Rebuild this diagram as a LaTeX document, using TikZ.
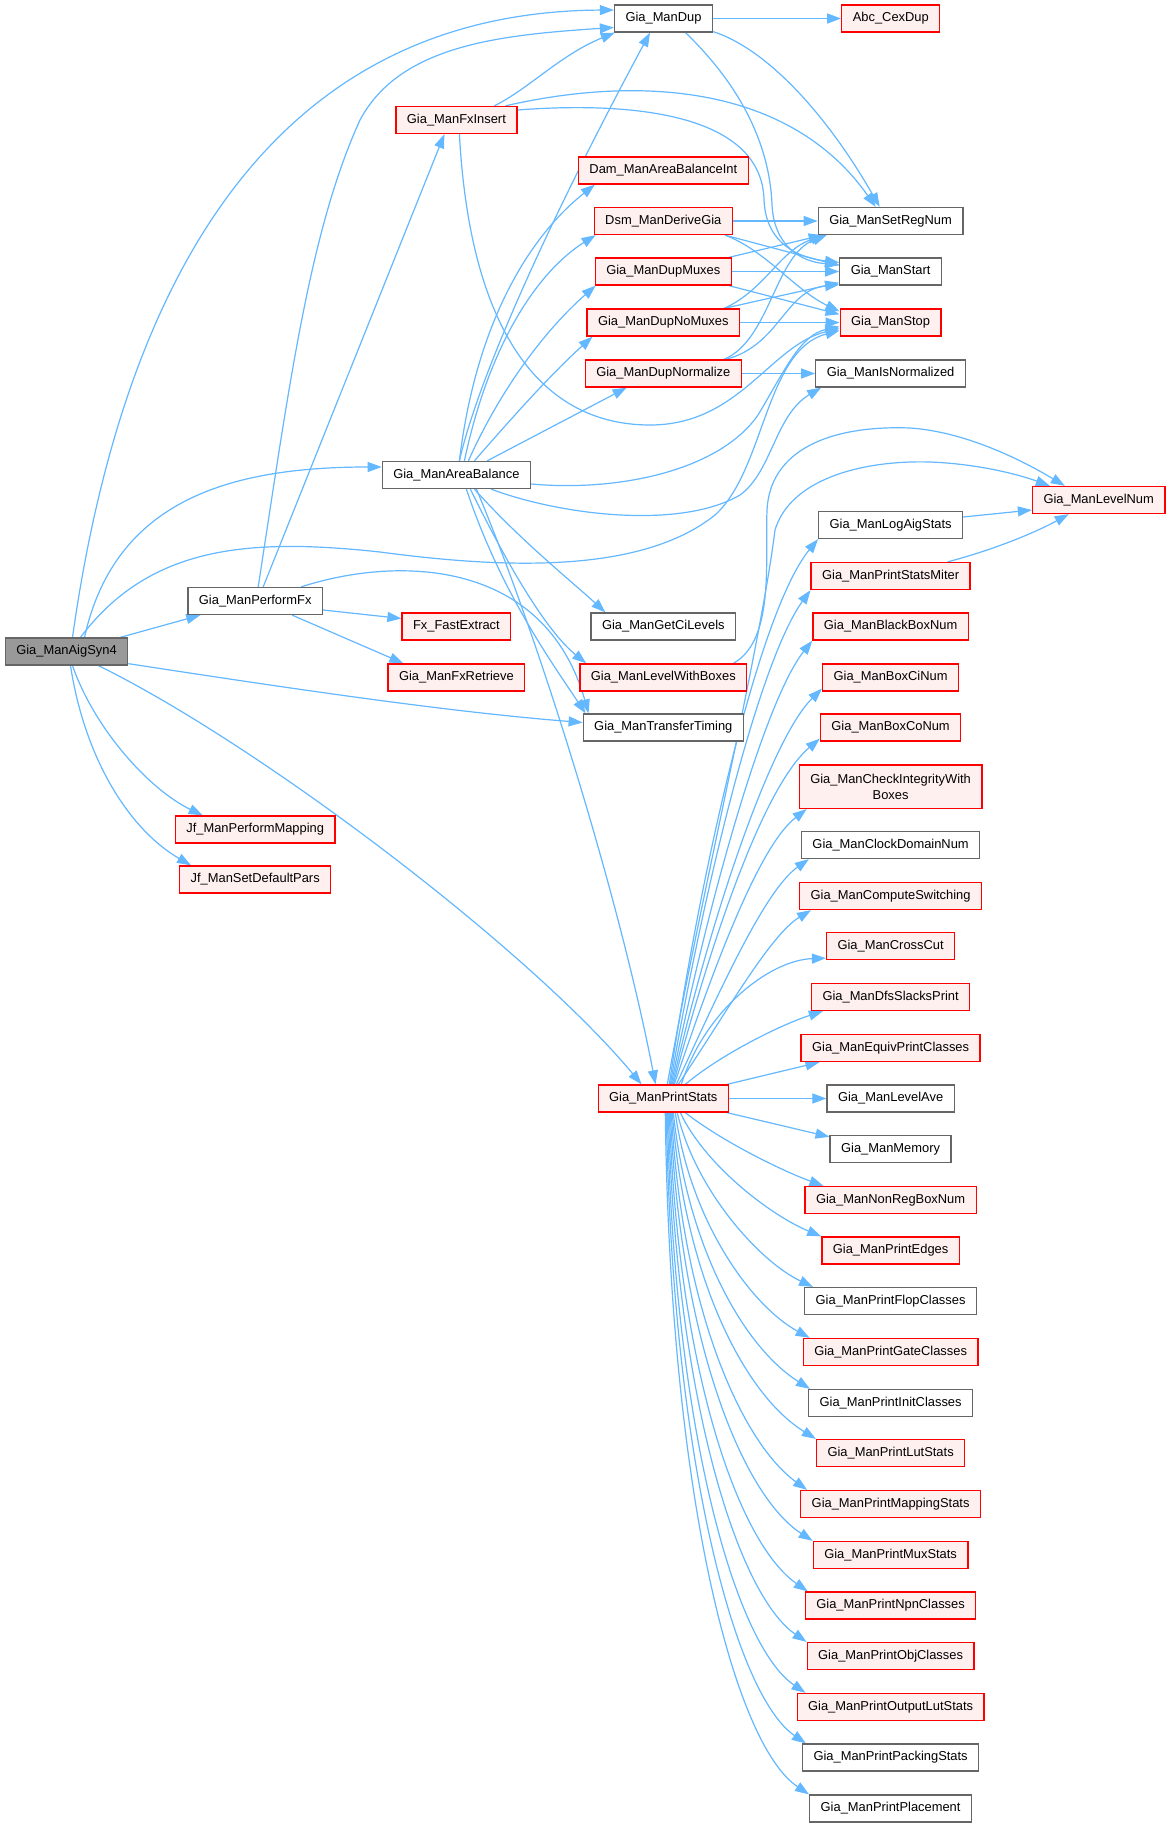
\documentclass[tikz,border=0pt]{standalone}
\usepackage{fontspec}
\setmainfont{Liberation Sans}
\usetikzlibrary{arrows.meta,calc,backgrounds}
\definecolor{edgec}{HTML}{63B8FF}
\definecolor{redb}{HTML}{FF0000}
\definecolor{redf}{HTML}{FFF0F0}
\definecolor{grayb}{HTML}{666666}
\definecolor{rootf}{HTML}{999999}
\begin{document}
\begin{tikzpicture}[x=1pt,y=-1pt,
  basebox/.style={draw, line width=1.3pt, font=\fontsize{12.9pt}{15.5pt}\selectfont, inner xsep=11pt, inner ysep=0pt},
  box/.style={basebox, minimum height=27pt, text height=9.4pt, text depth=2.6pt},
  rbox/.style={box, draw=redb, fill=redf},
  gbox/.style={box, draw=grayb, fill=white},
  rootbox/.style={box, draw=grayb, fill=rootf},
  chkbox/.style={basebox, draw=redb, fill=redf, align=center, minimum height=43.5pt},
  e/.style={draw=edgec, line width=1.2pt, -{Triangle[length=14pt,width=10pt]}}
]
\useasboundingbox (0,0) rectangle (1171,1827);

\node[rootbox] (root) at (66.5,651.5) {Gia\_ManAigSyn4};
\node[gbox] (dup) at (663.5,18.5) {Gia\_ManDup};
\node[rbox] (cex) at (890.8,18.5) {Abc\_CexDup};
\node[rbox] (fxins) at (456.4,120) {Gia\_ManFxInsert};
\node[rbox] (dam) at (663.3,170.5) {Dam\_ManAreaBalanceInt};
\node[rbox] (dsm) at (663.3,221) {Dsm\_ManDeriveGia};
\node[gbox] (setreg) at (890.6,221) {Gia\_ManSetRegNum};
\node[rbox] (dmux) at (663.3,271.5) {Gia\_ManDupMuxes};
\node[gbox] (start) at (890.6,271.5) {Gia\_ManStart};
\node[rbox] (dnomux) at (663.3,322.5) {Gia\_ManDupNoMuxes};
\node[rbox] (stop) at (890.6,322.5) {Gia\_ManStop};
\node[rbox] (dnorm) at (663.3,373.5) {Gia\_ManDupNormalize};
\node[gbox] (isnorm) at (890.6,373.5) {Gia\_ManIsNormalized};
\node[gbox] (areab) at (456.4,475) {Gia\_ManAreaBalance};
\node[rbox] (levnum) at (1098.7,500) {Gia\_ManLevelNum};
\node[gbox] (logaig) at (890.6,525) {Gia\_ManLogAigStats};
\node[rbox] (psm) at (890.6,576) {Gia\_ManPrintStatsMiter};
\node[gbox] (pfx) at (255.2,601) {Gia\_ManPerformFx};
\node[rbox] (bbn) at (890.6,626.5) {Gia\_ManBlackBoxNum};
\node[rbox] (fxe) at (456.4,626.5) {Fx\_FastExtract};
\node[gbox] (getci) at (663.3,626.5) {Gia\_ManGetCiLevels};
\node[rbox] (fxret) at (456.4,677.5) {Gia\_ManFxRetrieve};
\node[rbox] (lwb) at (663.3,677.5) {Gia\_ManLevelWithBoxes};
\node[rbox] (boxci) at (890.6,677.5) {Gia\_ManBoxCiNum};
\node[gbox] (tt) at (663.3,727.5) {Gia\_ManTransferTiming};
\node[rbox] (boxco) at (890.6,727.5) {Gia\_ManBoxCoNum};
\node[chkbox] (chk) at (890.6,786.7) {Gia\_ManCheckIntegrityWith\\Boxes};
\node[gbox] (cdn) at (890.6,845) {Gia\_ManClockDomainNum};
\node[rbox] (csw) at (890.6,896) {Gia\_ManComputeSwitching};
\node[rbox] (ccut) at (890.6,946) {Gia\_ManCrossCut};
\node[rbox] (dfs) at (890.6,997) {Gia\_ManDfsSlacksPrint};
\node[rbox] (epc) at (890.6,1048) {Gia\_ManEquivPrintClasses};
\node[rbox] (ps) at (663.3,1098.5) {Gia\_ManPrintStats};
\node[gbox] (lave) at (890.6,1098.5) {Gia\_ManLevelAve};
\node[gbox] (mem) at (890.6,1149) {Gia\_ManMemory};
\node[rbox] (nrb) at (890.6,1200) {Gia\_ManNonRegBoxNum};
\node[rbox] (pedg) at (890.6,1250.5) {Gia\_ManPrintEdges};
\node[gbox] (pflop) at (890.6,1301) {Gia\_ManPrintFlopClasses};
\node[rbox] (pgate) at (890.6,1352) {Gia\_ManPrintGateClasses};
\node[gbox] (pinit) at (890.6,1403) {Gia\_ManPrintInitClasses};
\node[rbox] (plut) at (890.6,1453) {Gia\_ManPrintLutStats};
\node[rbox] (pmap) at (890.6,1504) {Gia\_ManPrintMappingStats};
\node[rbox] (pmux) at (890.6,1555) {Gia\_ManPrintMuxStats};
\node[rbox] (pnpn) at (890.6,1605.5) {Gia\_ManPrintNpnClasses};
\node[rbox] (pobj) at (890.6,1656) {Gia\_ManPrintObjClasses};
\node[rbox] (pout) at (890.6,1707) {Gia\_ManPrintOutputLutStats};
\node[gbox] (ppack) at (890.6,1757.5) {Gia\_ManPrintPackingStats};
\node[gbox] (pplace) at (890.6,1808.5) {Gia\_ManPrintPlacement};
\node[rbox] (jfpm) at (255.2,829.5) {Jf\_ManPerformMapping};
\node[rbox] (jfsdp) at (255.2,879.5) {Jf\_ManSetDefaultPars};

\begin{scope}[on background layer]
\fill[white] (0,0) rectangle (1171,1827);
% Gia_ManAigSyn4
\draw[e] ($(root.north)+(6,0)$) .. controls (120,300) and (260,12) .. ($(dup.west)+(0,-8.5)$);
\draw[e] ($(root.north)+(18,0)$) .. controls (115,500) and (230,467) .. ($(areab.west)+(0,-8)$);
\draw[e] ($(root.north)+(14,0)$) .. controls (150,545) and (250,538) .. (380,552) .. controls (500,568) and (640,575) .. (715,515) .. controls (765,470) and (765,350) .. ($(stop.west)+(0,8)$);
\draw[e] ($(root.north east)+(-8,0)$) -- ($(pfx.south west)+(13,0)$);
\draw[e] ($(root.south east)+(0,-2)$) .. controls (300,690) and (450,712) .. ($(tt.west)+(0,-5)$);
\draw[e] ($(root.south)+(32,0)$) .. controls (260,745) and (530,950) .. ($(ps.north west)+(44,0)$);
\draw[e] ($(root.south)+(6,0)$) .. controls (95,730) and (150,790) .. ($(jfpm.north west)+(28,0)$);
\draw[e] ($(root.south)+(4,0)$) .. controls (85,760) and (130,830) .. ($(jfsdp.north west)+(12,0)$);
% Gia_ManPerformFx
\draw[e] ($(pfx.north)+(3,0)$) .. controls (290,380) and (310,230) .. (360,120) .. controls (400,45) and (500,35) .. ($(dup.west)+(0,9)$);
\draw[e] ($(pfx.north)+(8,0)$) -- ($(fxins.south)+(-12,0)$);
\draw[e] ($(pfx.east)+(0,9)$) -- ($(fxe.west)+(0,-8)$);
\draw[e] ($(pfx.south)+(37,0)$) -- ($(fxret.north west)+(16,0)$);
\draw[e] ($(pfx.north)+(46,0)$) .. controls (400,555) and (545,560) .. ($(tt.north west)+(6,0)$);
% Gia_ManFxInsert
\draw[e] ($(fxins.north)+(38,0)$) .. controls (530,88) and (560,55) .. ($(dup.south west)+(1,0)$);
\draw[e] ($(fxins.north east)+(-12,0)$) .. controls (640,75) and (790,85) .. ($(setreg.north west)+(58,0)$);
\draw[e] ($(fxins.east)+(0,-10)$) .. controls (650,100) and (762,120) .. (764,200) .. controls (766,245) and (800,258) .. ($(start.west)+(0,-9)$);
\draw[e] ($(fxins.south)+(3,0)$) .. controls (470,330) and (540,425) .. (650,425) .. controls (740,425) and (770,345) .. ($(stop.west)+(0,6)$);
% Gia_ManDup
\draw[e] (dup.east) -- (cex.west);
\draw[e] ($(dup.south east)+(0,-1)$) .. controls (770,50) and (830,120) .. ($(setreg.north west)+(62,0)$);
\draw[e] ($(dup.south)+(22,0)$) .. controls (745,90) and (770,150) .. (772,205) .. controls (774,245) and (800,262) .. ($(start.west)+(0,-7)$);
% Gia_ManAreaBalance
\draw[e] ($(areab.north)+(3,0)$) .. controls (480,370) and (560,200) .. ($(dup.south)+(-13.5,0)$);
\draw[e] ($(areab.north)+(3,0)$) .. controls (475,330) and (525,240) .. ($(dam.south west)+(17,0)$);
\draw[e] ($(areab.north)+(8,0)$) .. controls (490,340) and (540,270) .. ($(dsm.south west)+(2,0)$);
\draw[e] ($(areab.north)+(12,0)$) .. controls (500,390) and (545,330) .. ($(dmux.south west)+(1,0)$);
\draw[e] ($(areab.north)+(18,0)$) .. controls (510,420) and (550,375) .. ($(dnomux.south west)+(6,0)$);
\draw[e] ($(areab.north east)+(-44,0)$) -- ($(dnorm.south west)+(42,0)$);
\draw[e] ($(areab.east)+(0,9)$) .. controls (620,492) and (720,470) .. (758,415) .. controls (785,370) and (800,335) .. ($(stop.west)+(0,4)$);
\draw[e] ($(areab.south east)+(-40,0)$) .. controls (560,515) and (680,530) .. (740,495) .. controls (772,472) and (775,415) .. ($(isnorm.south west)+(6,0)$);
\draw[e] ($(areab.south)+(18,0)$) .. controls (520,540) and (570,580) .. ($(getci.north west)+(15,0)$);
\draw[e] ($(areab.south)+(14,0)$) .. controls (505,560) and (545,630) .. ($(lwb.north west)+(7,0)$);
\draw[e] ($(areab.south)+(10,0)$) .. controls (500,590) and (550,660) .. ($(tt.north west)+(3,0)$);
\draw[e] ($(areab.south)+(20,0)$) .. controls (540,640) and (620,900) .. ($(ps.north west)+(58,0)$);
% Dsm_ManDeriveGia
\draw[e] (dsm.east) -- (setreg.west);
\draw[e] ($(dsm.south east)+(-8,0)$) -- ($(start.west)+(0,-6)$);
\draw[e] ($(dsm.south east)+(-8,0)$) .. controls (765,250) and (795,290) .. ($(stop.north west)+(0,3)$);
% Gia_ManDupMuxes
\draw[e] ($(dmux.north east)+(-3,0)$) -- ($(setreg.south west)+(5,0)$);
\draw[e] (dmux.east) -- (start.west);
\draw[e] ($(dmux.south east)+(-3,0)$) -- ($(stop.north west)+(0,6)$);
% Gia_ManDupNoMuxes
\draw[e] ($(dnomux.north east)+(-16,0)$) .. controls (765,290) and (780,250) .. ($(setreg.south west)+(7,0)$);
\draw[e] ($(dnomux.north east)+(-16,0)$) -- ($(start.south west)+(0,-3)$);
\draw[e] (dnomux.east) -- (stop.west);
% Gia_ManDupNormalize
\draw[e] ($(dnorm.north east)+(-18,0)$) .. controls (770,340) and (775,255) .. ($(setreg.south west)+(9,0)$);
\draw[e] ($(dnorm.north east)+(-16,0)$) .. controls (780,345) and (785,290) .. ($(start.south west)+(0,-1)$);
\draw[e] (dnorm.east) -- (isnorm.west);
% Gia_ManLevelWithBoxes
\draw[e] ($(lwb.north east)+(-14,0)$) .. controls (775,640) and (765,560) .. (767,510) .. controls (770,450) and (830,425) .. (910,428) .. controls (970,432) and (1030,465) .. ($(levnum.north west)+(33,0)$);
% LogAigStats, PrintStatsMiter
\draw[e] ($(logaig.east)+(0,-8)$) -- ($(levnum.west)+(0,10)$);
\draw[e] ($(psm.north east)+(-23,0)$) .. controls (1000,548) and (1040,530) .. ($(levnum.south)+(-30,0)$);
% Gia_ManPrintStats
\draw[e] ($(ps.north)+(4,0)$) .. controls (700,900) and (760,650) .. (775,530) .. controls (790,480) and (860,460) .. (930,462) .. controls (980,464) and (1020,475) .. ($(levnum.north west)+(18,0)$);
\draw[e] ($(ps.north)+(6,0)$) .. controls (702,860) and (760,610) .. (logaig.south west);
\draw[e] ($(ps.north)+(7,0)$) .. controls (705,880) and (760,660) .. (psm.south west);
\draw[e] ($(ps.north)+(8,0)$) .. controls (708,900) and (765,700) .. (bbn.south west);
\draw[e] ($(ps.north)+(9,0)$) .. controls (710,920) and (770,740) .. ($(boxci.south west)+(0,-3)$);
\draw[e] ($(ps.north)+(10,0)$) .. controls (714,930) and (765,785) .. ($(boxco.south west)+(0,-3)$);
\draw[e] ($(ps.north)+(11,0)$) .. controls (716,960) and (760,845) .. ($(chk.south west)+(8,0)$);
\draw[e] ($(ps.north)+(13,0)$) .. controls (720,990) and (765,890) .. ($(cdn.south west)+(8,0)$);
\draw[e] ($(ps.north)+(15,0)$) .. controls (725,1015) and (770,935) .. ($(csw.south west)+(12,0)$);
\draw[e] ($(ps.north)+(18,0)$) .. controls (705,1010) and (770,960) .. ($(ccut.south west)+(0,-2)$);
\draw[e] ($(ps.north)+(22,0)$) .. controls (720,1055) and (780,1025) .. ($(dfs.south west)+(12,0)$);
\draw[e] ($(ps.north east)+(-2,0)$) -- ($(epc.south west)+(19,0)$);
\draw[e] (ps.east) -- (lave.west);
\draw[e] ($(ps.south east)+(-2,0)$) -- ($(mem.north west)+(0,2)$);
\draw[e] ($(ps.south)+(22,0)$) .. controls (720,1140) and (780,1170) .. ($(nrb.north west)+(19,0)$);
\draw[e] ($(ps.south)+(17,0)$) .. controls (705,1165) and (770,1215) .. (pedg.north west);
\draw[e] ($(ps.south)+(14,0)$) .. controls (695,1190) and (760,1262) .. ($(pflop.north west)+(9,0)$);
\draw[e] ($(ps.south)+(12,0)$) .. controls (690,1220) and (750,1305) .. ($(pgate.north west)+(7,0)$);
\draw[e] ($(ps.south)+(10,0)$) .. controls (688,1250) and (745,1348) .. ($(pinit.north west)+(2,0)$);
\draw[e] ($(ps.south)+(9,0)$) .. controls (685,1280) and (745,1395) .. (plut.north west);
\draw[e] ($(ps.south)+(8,0)$) .. controls (682,1310) and (742,1443) .. ($(pmap.north west)+(7,0)$);
\draw[e] ($(ps.south)+(7,0)$) .. controls (680,1340) and (742,1495) .. (pmux.north west);
\draw[e] ($(ps.south)+(6,0)$) .. controls (678,1370) and (738,1543) .. ($(pnpn.north west)+(3,0)$);
\draw[e] ($(ps.south)+(5,0)$) .. controls (676,1400) and (738,1595) .. (pobj.north west);
\draw[e] ($(ps.south)+(4,0)$) .. controls (674,1430) and (735,1645) .. ($(pout.north west)+(9,0)$);
\draw[e] ($(ps.south)+(3,0)$) .. controls (672,1460) and (735,1695) .. ($(ppack.north west)+(4,0)$);
\draw[e] ($(ps.south)+(2,0)$) .. controls (670,1500) and (735,1745) .. (pplace.north west);
\end{scope}
\end{tikzpicture}
\end{document}
